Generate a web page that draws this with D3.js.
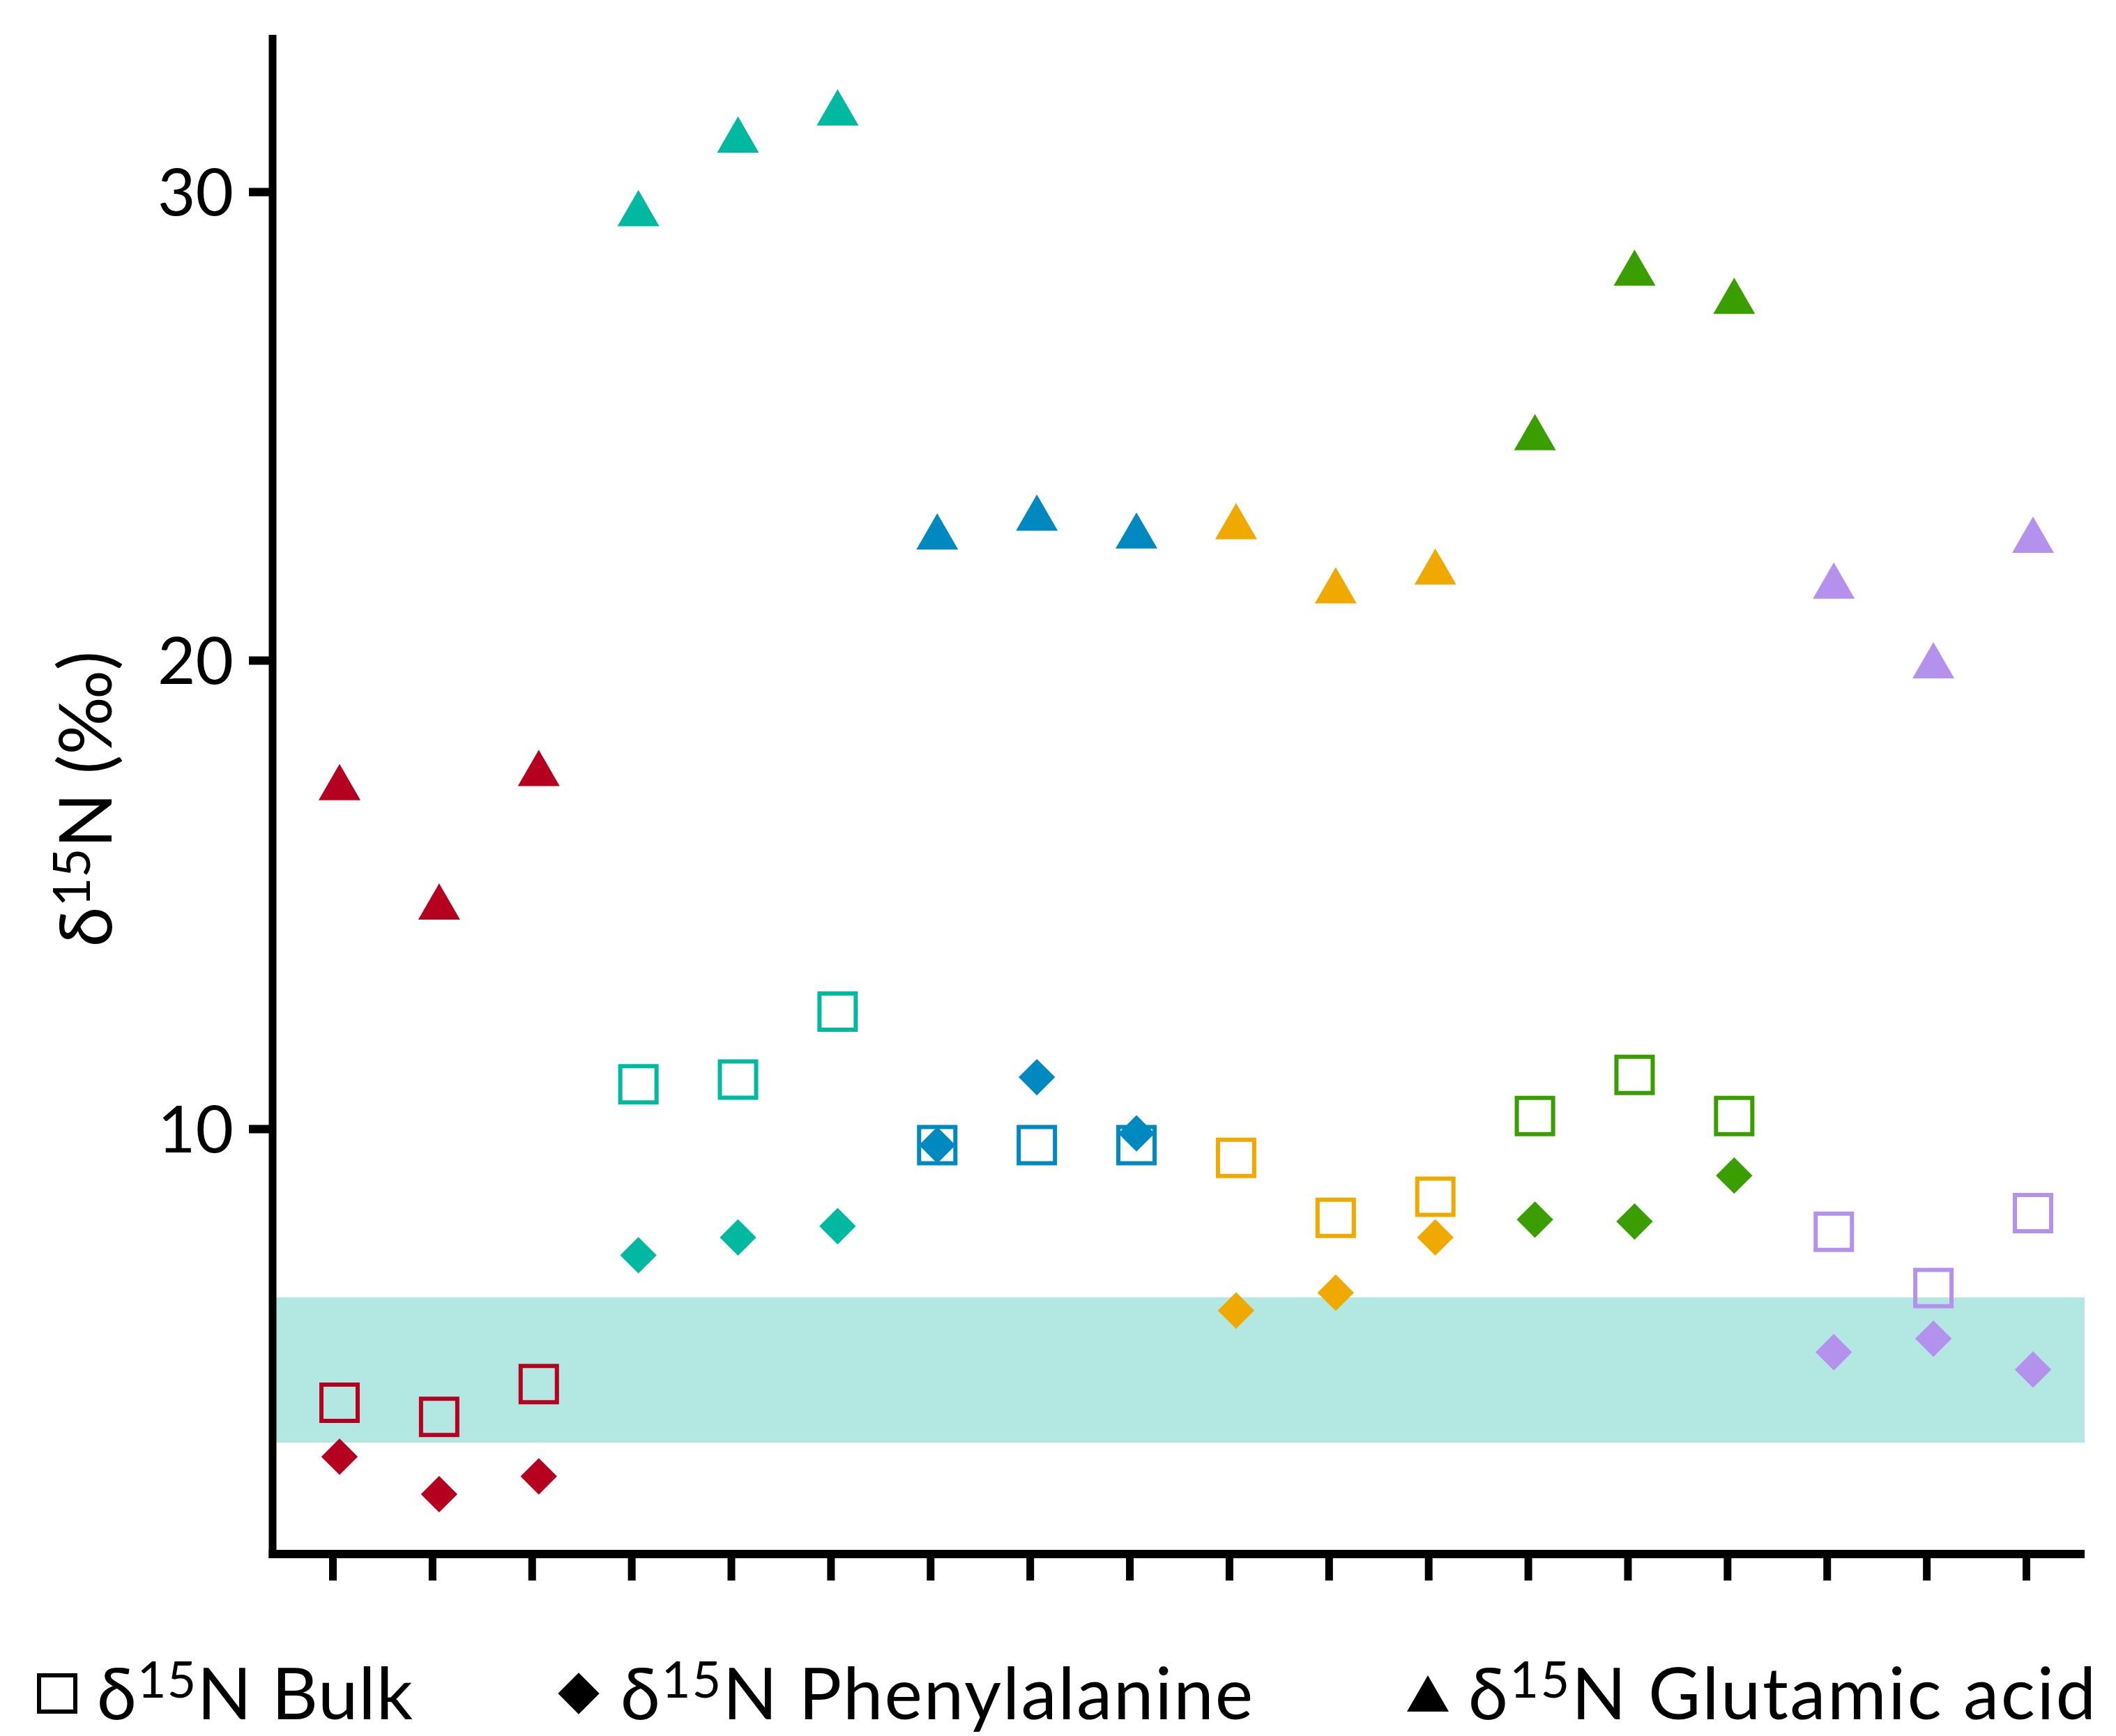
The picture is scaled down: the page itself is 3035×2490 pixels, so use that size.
<!DOCTYPE html>
<html>
<head>
<meta charset="utf-8">
<script src="https://cdn.jsdelivr.net/npm/d3@7"></script>
<style>
  body { margin: 0; background: #fff; }
  text { font-family: Lato, "Noto Sans", sans-serif; fill: #000; }
</style>
</head>
<body>
<svg id="chart" width="3035" height="2490"></svg>
<script>
// samples along the x axis, and which site group each one belongs to
var samples = ["S1","S2","S3","S4","S5","S6","S7","S8","S9","S10","S11","S12","S13","S14","S15","S16","S17","S18"]
var sampleGroup = ["A","A","A","B","B","B","C","C","C","D","D","D","E","E","E","F","F","F"]
var groups = ["A","B","C","D","E","F"]
var groupColors = ["#b5001f","#00b9a0","#0089c0","#f0a900","#3b9e00","#b391ec"]

// d15N values (per mil)
var bulk = [4.15, 3.85, 4.55, 10.95, 11.05, 12.5, 9.65, 9.65, 9.65, 9.38, 8.1, 8.55, 10.27, 11.15, 10.27, 7.8, 6.6, 8.2]
var phe  = [3.0, 2.2, 2.58, 7.3, 7.68, 7.92, 9.65, 11.1, 9.9, 6.12, 6.5, 7.68, 8.06, 8.02, 9.0, 5.23, 5.52, 4.86]
var glu  = [17.4, 14.85, 17.7, 29.65, 31.22, 31.8, 22.75, 23.15, 22.77, 22.97, 21.6, 22.0, 24.87, 28.38, 27.78, 21.7, 20.0, 22.68]

// shaded reference range
var band = [3.3, 6.4]
var yTicks = [10, 20, 30]
var yDomain = [0.9, 33.35]

var svg = d3.select("#chart")

var x = d3.scalePoint().domain(samples).range([487, 2916])
var y = d3.scaleLinear().domain(yDomain).range([2230.5, 49.9])
var color = d3.scaleOrdinal().domain(groups).range(groupColors)

var axisLeftX = 391, axisRightX = 2990, axisBottomY = 2229

// reference band
svg.append("rect")
    .attr("x", axisLeftX)
    .attr("y", y(band[1]))
    .attr("width", axisRightX - axisLeftX)
    .attr("height", y(band[0]) - y(band[1]))
    .attr("fill", "#b3e8e2")

// triangle centred on its bounding box (not the centroid)
var triBox = {
    draw: function(ctx, size) {
        var w = Math.sqrt(size), h = w * 0.866
        ctx.moveTo(0, -h / 2)
        ctx.lineTo(w / 2, h / 2)
        ctx.lineTo(-w / 2, h / 2)
        ctx.closePath()
    }
}

var sq = d3.symbol().type(d3.symbolSquare).size(52 * 52)
var dia = d3.symbol().type(d3.symbolSquare).size(37 * 37)
var tri = d3.symbol().type(triBox).size(60 * 60)

// glutamic acid
svg.append("g").selectAll("path")
    .data(glu)
    .join("path")
    .attr("d", tri)
    .attr("fill", function(d, i) { return color(sampleGroup[i]) })
    .attr("transform", function(d, i) { return "translate(" + x(samples[i]) + "," + y(d) + ")" })

// bulk (open squares)
svg.append("g").selectAll("path")
    .data(bulk)
    .join("path")
    .attr("d", sq)
    .attr("fill", "none")
    .attr("stroke", function(d, i) { return color(sampleGroup[i]) })
    .attr("stroke-width", 6)
    .attr("transform", function(d, i) { return "translate(" + x(samples[i]) + "," + y(d) + ")" })

// phenylalanine (diamonds)
svg.append("g").selectAll("path")
    .data(phe)
    .join("path")
    .attr("d", dia)
    .attr("fill", function(d, i) { return color(sampleGroup[i]) })
    .attr("transform", function(d, i) { return "translate(" + x(samples[i]) + "," + y(d) + ") rotate(45)" })

// y axis
var yAxis = d3.axisLeft(y).tickValues(yTicks).tickSize(34).tickPadding(22).tickFormat(d3.format("d"))
var gy = svg.append("g")
    .attr("transform", "translate(" + axisLeftX + ",0)")
    .call(yAxis)
gy.select(".domain").remove()
gy.selectAll(".tick line").attr("stroke", "#000").attr("stroke-width", 12)
gy.selectAll(".tick text")
    .style("font-size", "94px")
    .style("font-family", "Lato, 'Noto Sans', sans-serif")
    .attr("fill", "#000")
    .attr("dy", "0.36em")

// x axis (ticks only, no labels), ticks sit a bit left of the markers
var xAxis = d3.axisBottom(x).tickSize(38).tickFormat("")
var gx = svg.append("g")
    .attr("transform", "translate(-10," + axisBottomY + ")")
    .call(xAxis)
gx.select(".domain").remove()
gx.selectAll(".tick line").attr("stroke", "#000").attr("stroke-width", 11)

// axis lines
svg.append("line")
    .attr("x1", axisLeftX).attr("x2", axisLeftX)
    .attr("y1", y(yDomain[1])).attr("y2", axisBottomY + 6)
    .attr("stroke", "#000").attr("stroke-width", 11)
svg.append("line")
    .attr("x1", axisLeftX - 5.5).attr("x2", axisRightX)
    .attr("y1", axisBottomY).attr("y2", axisBottomY)
    .attr("stroke", "#000").attr("stroke-width", 12)

// helper: delta-15-N label with superscript
function d15n(sel, rest, size) {
    sel.append("tspan").text("δ")
    sel.append("tspan").text("15").style("font-size", (size * 0.7) + "px").attr("dy", -size * 0.3)
    sel.append("tspan").text("N" + rest).attr("dy", size * 0.3)
}

// y axis title
var ytitle = svg.append("text")
    .attr("transform", "translate(160,1146) rotate(-90)")
    .attr("text-anchor", "middle")
    .style("font-size", "104px")
d15n(ytitle, " (‰)", 104)

// legend
var legendY = 2466
var legendItems = [
    { sym: "square", x: 82, tx: 139, label: " Bulk", ls: 1 },
    { sym: "diamond", x: 830, tx: 890, label: " Phenylalanine", ls: 2 },
    { sym: "triangle", x: 2048, tx: 2106, label: " Glutamic acid", ls: 2.5 }
]
legendItems.forEach(function(it) {
    var g = svg.append("g").attr("transform", "translate(" + it.x + ",2429)")
    if (it.sym == "square") {
        g.append("path").attr("d", sq).attr("fill", "none").attr("stroke", "#000").attr("stroke-width", 6)
    } else if (it.sym == "diamond") {
        g.append("path").attr("d", d3.symbol().type(d3.symbolSquare).size(42 * 42)).attr("fill", "#000").attr("transform", "rotate(45)")
    } else {
        g.append("path").attr("d", tri).attr("fill", "#000")
    }
    var t = svg.append("text")
        .attr("x", it.tx)
        .attr("y", legendY)
        .style("font-size", "103px")
        .style("letter-spacing", it.ls + "px")
    d15n(t, it.label, 103)
})
</script>
</body>
</html>
